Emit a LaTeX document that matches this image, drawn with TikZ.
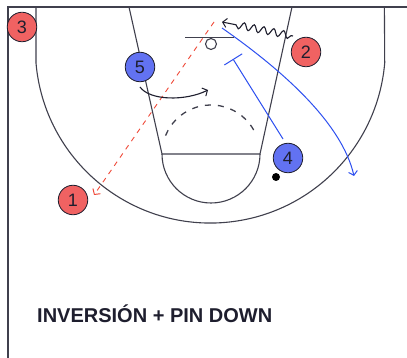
\documentclass[tikz,border=0pt]{standalone}
\usepackage{fontspec}
\setmainfont{Liberation Sans}
\usetikzlibrary{arrows.meta,decorations.pathmorphing}
\definecolor{pred}{HTML}{F06262}
\definecolor{pblue}{HTML}{6272F2}
\definecolor{lblue}{HTML}{2E50F0}
\definecolor{dred}{HTML}{F04A3A}
\definecolor{ink}{HTML}{1E1E2E}
\begin{document}
\begin{tikzpicture}[x=1pt,y=-1pt,
  court/.style={draw=ink!85, line width=1.1pt},
  player/.style={circle, draw=ink, line width=0.8pt, minimum size=29.5pt, inner sep=0pt,
    font=\fontsize{18}{18}\selectfont, text=ink},
  redp/.style={player, fill=pred},
  bluep/.style={player, fill=pblue},
  tip/.style={-{Straight Barb[length=4pt,width=9pt,line width=1pt]}},
  passline/.style={draw=dred, line width=0.9pt, dash pattern=on 5pt off 5pt},
  cutline/.style={draw=lblue, line width=1pt},
  moveline/.style={draw=ink, line width=1.1pt},
  title/.style={font=\bfseries\fontsize{20}{20}\selectfont, text=ink, inner sep=0pt}]
\useasboundingbox (0,0) rectangle (407,358);
\fill[white] (0,0) rectangle (407,358);
% court
\draw[court] (8,358) -- (8,7) -- (407,7);
\draw[court] (36,7) -- (36,63) arc[start angle=175.1, end angle=4.9, radius=175] -- (384.4,7);
\draw[court] (129,7) -- (162,154) -- (260,154) -- (292,7);
\draw[court] (162,154) arc[start angle=180, end angle=0, radius=49];
\draw[court, line width=1.3pt, dash pattern=on 6pt off 7pt] (211,154) ++(202:49) arc[start angle=202, end angle=338, radius=49];
\draw[court] (185,37.5) -- (234,37.5);
\draw[court, fill=white] (211,44) circle[radius=5.5];
% players
\node[redp] (p3) at (22,27) {3};
\node[redp] (p2) at (306,52) {2};
\node[bluep] (p5) at (140,67) {5};
\node[bluep] (p4) at (288,158) {4};
\node[redp] (p1) at (73,200) {1};
\node[circle, fill=black, inner sep=0pt, minimum size=8pt] (ball) at (276,177) {};
% coordinates for connector ends
\coordinate (passA) at (214,22);
\coordinate (passB) at (94,195);
\coordinate (waveA) at (293,36);
\coordinate (waveB) at (222,22);
\coordinate (curA) at (140,87);
\coordinate (curB) at (208,90);
\coordinate (pinA) at (283,139);
\coordinate (pinB) at (233,59);
\coordinate (cutA) at (222,28);
\coordinate (cutB) at (354,176);
% connectors
\draw[passline, tip, draw=dred] (passA) -- (passB);
\draw[moveline, tip, decorate, decoration={snake, amplitude=3.5pt, segment length=10pt, pre length=2pt, post length=12pt}] (waveA) -- (waveB);
\draw[moveline, tip] (curA) .. controls (150,101) and (186,101) .. (curB);
\draw[cutline, -{Bar[width=21pt,line width=1pt]}] (pinA) -- (pinB);
\draw[cutline, -{Straight Barb[length=4pt,width=9pt,line width=1pt]}] (cutA) .. controls (285,72) and (342,124) .. (cutB);
% title
\node[title, anchor=base west] (ttl) at (37,322) {INVERSIÓN + PIN DOWN};
\end{tikzpicture}
\end{document}
